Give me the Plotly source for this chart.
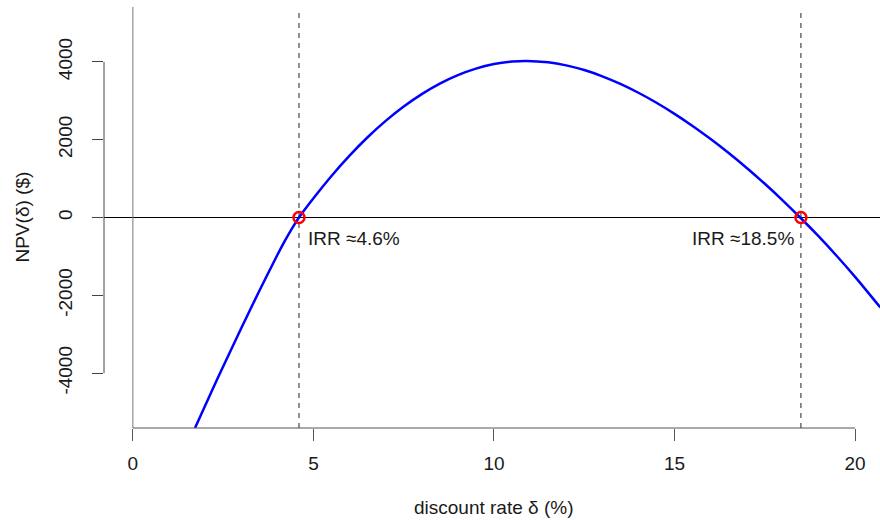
import plotly.graph_objects as go

# Data (discount rate in %, NPV in $)
delta = [1.72, 2.0, 2.5, 3.0, 3.5, 4.0, 4.2, 4.4, 4.6, 5.0, 5.5, 6.0, 6.5, 7.0,
         7.5, 8.0, 8.5, 9.0, 9.5, 10.0, 10.5, 10.9, 11.5, 12.0, 12.5, 13.0, 13.5,
         14.0, 14.5, 15.0, 15.5, 16.0, 16.5, 17.0, 17.5, 18.0, 18.48, 19.0, 19.5,
         20.0, 20.7]
npv = [-5410, -4836, -3828, -2845, -1888, -965, -615, -290, 0, 495, 1068, 1590,
       2062, 2483, 2853, 3172, 3441, 3659, 3826, 3943, 4009, 4025, 3990, 3910,
       3789, 3629, 3434, 3206, 2949, 2664, 2352, 2016, 1656, 1272, 866, 436, 0,
       -493, -996, -1525, -2314]

irr_values = [4.6, 18.5]
irr_labels = ["IRR ≈4.6%", "IRR ≈18.5%"]

x_ticks = [0, 5, 10, 15, 20]
y_ticks = [-4000, -2000, 0, 2000, 4000]

FONT = "Liberation Sans, Arial, Helvetica, sans-serif"

fig = go.Figure()

fig.add_trace(go.Scatter(
    x=delta, y=npv, mode="lines",
    line=dict(color="#0000FF", width=2.5, shape="spline", smoothing=1.0),
    showlegend=False, hoverinfo="skip",
))

fig.add_trace(go.Scatter(
    x=irr_values, y=[0] * len(irr_values), mode="markers",
    marker=dict(symbol="circle-open", size=11, color="#FF0000",
                line=dict(color="#FF0000", width=2.5)),
    showlegend=False, hoverinfo="skip",
))

shapes = []
# reference lines
shapes.append(dict(type="line", xref="paper", yref="y", x0=0, x1=1, y0=0, y1=0,
                   line=dict(color="#000000", width=1), layer="below"))
shapes.append(dict(type="line", xref="x", yref="paper", x0=0, x1=0, y0=0, y1=1,
                   line=dict(color="#777777", width=1), layer="below"))
for v in irr_values:
    shapes.append(dict(type="line", xref="x", yref="paper", x0=v, x1=v, y0=0, y1=0.988,
                       line=dict(color="#222222", width=1, dash="5px,5px"), layer="below"))
# axis lines (R style, spanning the tick range only)
shapes.append(dict(type="line", xref="paper", yref="y", x0=0, x1=0,
                   y0=min(y_ticks), y1=max(y_ticks), line=dict(color="#444444", width=1)))
shapes.append(dict(type="line", xref="x", yref="paper", x0=min(x_ticks), x1=max(x_ticks),
                   y0=0, y1=0, line=dict(color="#555555", width=1)))

annotations = [
    dict(x=irr_values[0], y=0, xref="x", yref="y", text=irr_labels[0],
         showarrow=False, xanchor="left", yanchor="middle", xshift=7, yshift=-21,
         font=dict(size=19, color="#1a1a1a", family=FONT)),
    dict(x=irr_values[1], y=0, xref="x", yref="y", text=irr_labels[1],
         showarrow=False, xanchor="right", yanchor="middle", xshift=-5, yshift=-21,
         font=dict(size=19, color="#1a1a1a", family=FONT)),
    dict(x=10, y=(428 - 507) / 421, xref="x", yref="paper", text="discount rate δ (%)",
         showarrow=False, xanchor="center", yanchor="middle",
         font=dict(size=19, color="#1a1a1a", family=FONT)),
    dict(x=(22 - 104) / 776, y=0.5, xref="paper", yref="paper", text="NPV(δ) ($)",
         showarrow=False, xanchor="center", yanchor="middle", textangle=-90,
         font=dict(size=19, color="#1a1a1a", family=FONT)),
]

fig.update_layout(
    width=880, height=520,
    margin=dict(l=104, r=0, t=7, b=92),
    paper_bgcolor="white", plot_bgcolor="white",
    font=dict(family=FONT, size=19, color="#1a1a1a"),
    shapes=shapes, annotations=annotations,
    xaxis=dict(range=[-0.8, 20.69], tickvals=x_ticks, ticktext=[str(t) for t in x_ticks],
               showgrid=False, zeroline=False, showline=False,
               ticks="outside", ticklen=12, tickwidth=1, tickcolor="#555555",
               ticklabelstandoff=6, tickfont=dict(size=19)),
    yaxis=dict(range=[-5410, 5410], tickvals=y_ticks, ticktext=[str(t) for t in y_ticks],
               showgrid=False, zeroline=False, showline=False,
               ticks="outside", ticklen=11, tickwidth=1, tickcolor="#444444",
               tickangle=-90, ticklabelstandoff=12, tickfont=dict(size=19)),
)

fig.write_html("out.html")
